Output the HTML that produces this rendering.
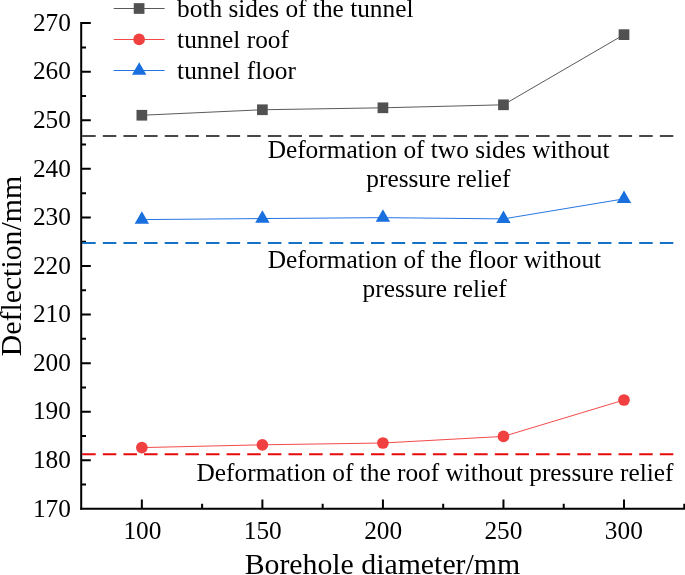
<!DOCTYPE html>
<html><head><meta charset="utf-8">
<style>
html,body{margin:0;padding:0;background:#fff;}
svg{display:block;}
text{font-family:"Liberation Serif","Times New Roman",serif;fill:#000;}
</style></head><body>
<svg width="685" height="575" viewBox="0 0 685 575">
<rect width="685" height="575" fill="#fff"/>
<g stroke="#000" stroke-width="2.0" fill="none">
<path d="M81.2 23.10H90.8 M81.2 47.39H86 M81.2 71.68H90.8 M81.2 95.97H86 M81.2 120.26H90.8 M81.2 144.55H86 M81.2 168.84H90.8 M81.2 193.13H86 M81.2 217.42H90.8 M81.2 241.71H86 M81.2 266.00H90.8 M81.2 290.29H86 M81.2 314.58H90.8 M81.2 338.87H86 M81.2 363.16H90.8 M81.2 387.45H86 M81.2 411.74H90.8 M81.2 436.03H86 M81.2 460.32H90.8 M81.2 484.61H86 "/>
<path d="M141.85 508.85V499.5 M202.12 508.85V503.7 M262.39 508.85V499.5 M322.66 508.85V503.7 M382.93 508.85V499.5 M443.19 508.85V503.7 M503.46 508.85V499.5 M563.73 508.85V503.7 M624.00 508.85V499.5 M684.27 508.85V503.7 "/>
</g>
<path d="M82.2 135.95H673.3" stroke="#484848" stroke-width="2.05" stroke-dasharray="13.5 7.13" fill="none"/>
<path d="M82.2 242.95H673.3" stroke="#1672c4" stroke-width="2.05" stroke-dasharray="13.5 7.13" fill="none"/>
<path d="M82.2 454.3H673.3" stroke="#e60a0a" stroke-width="2.05" stroke-dasharray="13.5 7.13" fill="none"/>
<g stroke="#000" stroke-width="2.0" fill="none">
<path d="M81.2 22.10V509.85"/>
<path d="M80.20 508.85H685"/>
</g>
<g font-size="25.33" text-anchor="end">
<text x="70.9" y="30.80">270</text>
<text x="70.9" y="79.38">260</text>
<text x="70.9" y="127.96">250</text>
<text x="70.9" y="176.54">240</text>
<text x="70.9" y="225.12">230</text>
<text x="70.9" y="273.70">220</text>
<text x="70.9" y="322.28">210</text>
<text x="70.9" y="370.86">200</text>
<text x="70.9" y="419.44">190</text>
<text x="70.9" y="468.02">180</text>
<text x="70.9" y="516.60">170</text>
</g>
<g font-size="25.33" text-anchor="middle">
<text x="142.45" y="539.2">100</text>
<text x="262.79" y="539.2">150</text>
<text x="383.13" y="539.2">200</text>
<text x="503.46" y="539.2">250</text>
<text x="623.80" y="539.2">300</text>
</g>
<text x="382.4" y="574.3" font-size="29.8" text-anchor="middle">Borehole diameter/mm</text>
<text transform="translate(21,266.1) rotate(-90)" font-size="29.8" text-anchor="middle">Deflection/mm</text>
<polyline points="141.85,115.25 262.39,109.75 382.93,107.8 503.46,104.8 624.00,34.65" fill="none" stroke="#515151" stroke-width="0.95"/>
<polyline points="141.85,219.6 262.39,218.55 382.93,217.65 503.46,218.9 624.00,198.85" fill="none" stroke="#1a6fdf" stroke-width="0.95"/>
<polyline points="141.85,447.6 262.39,444.8 382.93,443.0 503.46,436.4 624.00,400.0" fill="none" stroke="#f14040" stroke-width="0.95"/>
<g fill="#515151"><rect x="136.50" y="109.90" width="10.7" height="10.7"/><rect x="257.04" y="104.40" width="10.7" height="10.7"/><rect x="377.57" y="102.45" width="10.7" height="10.7"/><rect x="498.11" y="99.45" width="10.7" height="10.7"/><rect x="618.65" y="29.30" width="10.7" height="10.7"/></g>
<g fill="#1a6fdf"><path d="M141.85 211.27L149.05 223.77H134.65Z"/><path d="M262.3875 210.22L269.59 222.72H255.19Z"/><path d="M382.925 209.32L390.12 221.82H375.73Z"/><path d="M503.4625 210.57L510.66 223.07H496.26Z"/><path d="M624.0 190.52L631.20 203.02H616.80Z"/></g>
<g fill="#f14040"><circle cx="141.85" cy="447.6" r="5.85"/><circle cx="262.3875" cy="444.8" r="5.85"/><circle cx="382.925" cy="443.0" r="5.85"/><circle cx="503.4625" cy="436.4" r="5.85"/><circle cx="624.0" cy="400.0" r="5.85"/></g>
<path d="M113.7 8.5H164.6" stroke="#515151" stroke-width="0.95"/>
<path d="M113.7 39.5H164.6" stroke="#f14040" stroke-width="0.95"/>
<path d="M113.7 70.5H164.6" stroke="#1a6fdf" stroke-width="0.95"/>
<g fill="#515151"><rect x="133.75" y="3.15" width="10.7" height="10.7"/></g>
<g fill="#f14040"><circle cx="139.1" cy="39.4" r="5.85"/></g>
<g fill="#1a6fdf"><path d="M139.2 62.37L146.40 74.87H132.00Z"/></g>
<g font-size="25.33">
<text x="177.1" y="17.3">both sides of the tunnel</text>
<text x="177.1" y="48.3">tunnel roof</text>
<text x="177.1" y="79.4">tunnel floor</text>
</g>
<g font-size="25.33" text-anchor="middle">
<text x="438.6" y="157.7">Deformation of two sides without</text>
<text x="438.4" y="187.4">pressure relief</text>
<text x="434.4" y="268">Deformation of the floor without</text>
<text x="434.7" y="297.4">pressure relief</text>
<text x="435.0" y="481.4">Deformation of the roof without pressure relief</text>
</g>
</svg>
</body></html>
